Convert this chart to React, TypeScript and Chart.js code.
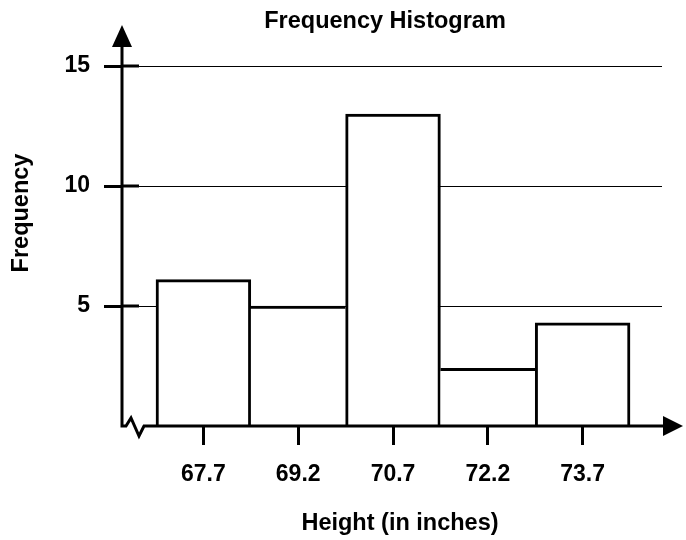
import React, { useEffect, useRef } from "react";
import { Chart, registerables } from "chart.js";

Chart.register(...registerables);

const chartTitle = "Frequency Histogram";
const xAxisTitle = "Height (in inches)";
const yAxisTitle = "Frequency";
const heights = [67.7, 69.2, 70.7, 72.2, 73.7];
const frequencies = [6.1, 5, 13, 2.4, 4.3];
const yTicks = [0, 5, 10, 15];

const FONT = '"Liberation Sans", Arial, sans-serif';

const decorPlugin = {
  id: "decor",
  afterDraw(chart: any) {
    const { ctx, chartArea, scales } = chart;
    const { left, right, top } = chartArea;
    const y = scales.y;
    const y0 = y.getPixelForValue(0);
    ctx.save();
    ctx.strokeStyle = "#000";
    ctx.fillStyle = "#000";
    ctx.lineWidth = 3;
    ctx.lineJoin = "miter";
    // axes with break mark
    ctx.beginPath();
    ctx.moveTo(left, top - 22);
    ctx.lineTo(left, y0);
    ctx.lineTo(left + 4, y0);
    ctx.lineTo(left + 9, y0 - 8);
    ctx.lineTo(left + 17, y0 + 10);
    ctx.lineTo(left + 22, y0);
    ctx.lineTo(right + 2, y0);
    ctx.stroke();
    // inner tick stubs
    yTicks.forEach((v) => {
      if (v === 0) return;
      const py = y.getPixelForValue(v);
      ctx.beginPath();
      ctx.moveTo(left, py);
      ctx.lineTo(left + 17, py);
      ctx.stroke();
    });
    // arrow heads
    ctx.beginPath();
    ctx.moveTo(left, top - 41);
    ctx.lineTo(left + 10, top - 19);
    ctx.lineTo(left - 10, top - 19);
    ctx.closePath();
    ctx.fill();
    ctx.beginPath();
    ctx.moveTo(right + 21, y0);
    ctx.lineTo(right + 1, y0 - 10);
    ctx.lineTo(right + 1, y0 + 10);
    ctx.closePath();
    ctx.fill();
    // texts
    ctx.font = `bold 23.5px ${FONT}`;
    ctx.textAlign = "center";
    ctx.textBaseline = "middle";
    ctx.fillText(chartTitle, 385, 22);
    ctx.fillText(xAxisTitle, 400, 524);
    ctx.save();
    ctx.translate(22, 213);
    ctx.rotate(-Math.PI / 2);
    ctx.fillText(yAxisTitle, 0, 0);
    ctx.restore();
    ctx.restore();
  },
};

export default function App() {
  const ref = useRef<HTMLCanvasElement | null>(null);
  useEffect(() => {
    if (!ref.current) return;
    const n = frequencies.length;
    const chart = new Chart(ref.current, {
      type: "bar",
      data: {
        datasets: [
          {
            data: heights.map((h, i) => ({ x: h, y: frequencies[i] })),
            backgroundColor: "#fff",
            borderColor: "#000",
            borderSkipped: "bottom",
            borderWidth: (c: any) => {
              const i = c.dataIndex;
              const v = frequencies;
              return {
                top: 3,
                bottom: 0,
                left: i === 0 || v[i] >= v[i - 1] ? 3 : 0,
                right: i === n - 1 || v[i] > v[i + 1] ? 3 : 0,
              };
            },
            barPercentage: 1,
            categoryPercentage: 1,
          } as any,
        ],
      },
      options: {
        animation: false,
        responsive: false,
        layout: { padding: { left: 0, top: 66, right: 24, bottom: 0 } },
        plugins: {
          legend: { display: false },
          title: { display: false },
          tooltip: { enabled: false },
        },
        scales: {
          x: {
            type: "linear",
            min: 66.412,
            max: 74.956,
            offset: false,
            afterBuildTicks: (s: any) => {
              s.ticks = heights.map((v) => ({ value: v }));
            },
            afterFit: (s: any) => {
              s.height = 114;
            },
            ticks: {
              callback: (v: any) => Number(v).toFixed(1),
              font: { family: FONT, size: 23, weight: "bold" },
              color: "#000",
              padding: 16,
              autoSkip: false,
              maxRotation: 0,
            },
            grid: {
              offset: false,
              drawOnChartArea: false,
              drawTicks: true,
              tickLength: 19,
              tickWidth: 3,
              tickColor: "#000",
            },
            border: { display: false },
          } as any,
          y: {
            type: "linear",
            min: 0,
            max: 15,
            afterBuildTicks: (s: any) => {
              s.ticks = yTicks.map((v) => ({ value: v }));
            },
            afterFit: (s: any) => {
              s.width = 122;
            },
            ticks: {
              callback: (v: any) => (v === 0 ? "" : String(v)),
              font: { family: FONT, size: 23, weight: "bold" },
              color: "#000",
              padding: 14,
            },
            grid: {
              color: (c: any) => (c.tick && c.tick.value === 0 ? "rgba(0,0,0,0)" : "#000"),
              lineWidth: 1,
              drawTicks: true,
              tickLength: 18,
              tickWidth: 3,
              tickColor: (c: any) => (c.tick && c.tick.value === 0 ? "rgba(0,0,0,0)" : "#000"),
            },
            border: { display: false },
          } as any,
        },
      },
      plugins: [decorPlugin],
    });
    return () => chart.destroy();
  }, []);
  return (
    <canvas
      ref={ref}
      width={686}
      height={540}
      style={{ position: "absolute", left: 0, top: 0, display: "block" }}
    />
  );
}
